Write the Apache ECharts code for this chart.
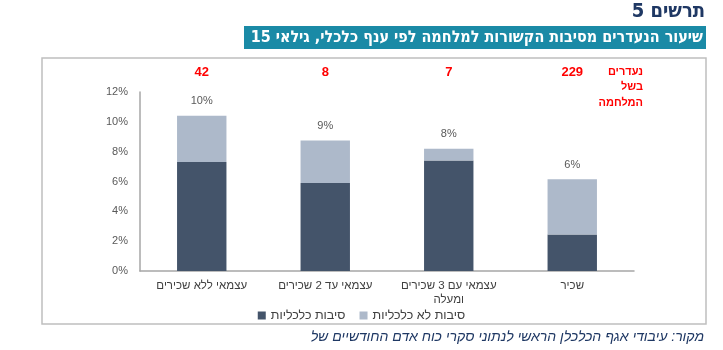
<!DOCTYPE html>
<html>
<head>
<meta charset="utf-8">
<script src="https://cdn.jsdelivr.net/npm/echarts@6/dist/echarts.min.js"></script>
<style>
  html, body { margin: 0; padding: 0; background: #fff; }
  #chart { width: 723px; height: 350px; }
</style>
</head>
<body>
<div id="chart"></div>
<script>
// נתונים
var categories = ['עצמאי ללא שכירים', 'עצמאי עד 2 שכירים', 'עצמאי עם 3 שכירים\nומעלה', 'שכיר'];
var econ = [7.3, 5.9, 7.4, 2.45];      // סיבות כלכליות
var nonEcon = [3.1, 2.85, 0.8, 3.7];   // סיבות לא כלכליות
var counts = ['42', '8', '7', '229'];  // נעדרים בשל המלחמה
var yTicks = [0, 2, 4, 6, 8, 10, 12];

var font = 'Liberation Sans, DejaVu Sans, sans-serif';
var narrow = '"DejaVu Sans Condensed", "Liberation Sans", sans-serif';

var myChart = echarts.init(document.getElementById('chart'));

var option = {
    animation: false,
    textStyle: { fontFamily: font },
    title: {
        text: 'תרשים 5',
        right: 18,
        top: 2,
        padding: 0,
        textStyle: { fontFamily: narrow, fontSize: 20, fontWeight: 'bold', color: '#1f3864' }
    },
    graphic: [
        { type: 'rect', shape: { x: 244, y: 26, width: 462, height: 23 }, style: { fill: '#1a8aa6' } },
        { type: 'text', x: 703, y: 38, style: {
            text: 'שיעור הנעדרים מסיבות הקשורות למלחמה לפי ענף כלכלי, גילאי 15',
            fill: '#fff', font: 'bold 16px ' + narrow, align: 'right', verticalAlign: 'middle' } },
        { type: 'rect', shape: { x: 42, y: 58, width: 664, height: 266 }, style: { fill: 'none', stroke: '#bfbfbf', lineWidth: 1.5 } },
        { type: 'text', x: 643, y: 64, style: {
            text: 'נעדרים\nבשל\nהמלחמה', fill: '#ff0000', font: 'bold 11px ' + font,
            align: 'right', verticalAlign: 'top', lineHeight: 15.5 } },
        { type: 'text', x: 704, y: 337, style: {
            text: 'מקור: עיבודי אגף הכלכלן הראשי לנתוני סקרי כוח אדם החודשיים של',
            fill: '#1f3864', font: 'italic 14px ' + font, align: 'right', verticalAlign: 'middle' } }
    ],
    legend: {
        left: 'center',
        top: 304,
        itemWidth: 8,
        itemHeight: 8,
        itemGap: 14,
        icon: 'rect',
        textStyle: { fontSize: 12.5, color: '#404040', fontFamily: font },
        data: ['סיבות כלכליות', 'סיבות לא כלכליות']
    },
    grid: { left: 140, right: 89, top: 92, bottom: 79 },
    xAxis: [{
        type: 'category',
        data: categories,
        axisLine: { lineStyle: { color: '#a6a6a6', width: 1.5 } },
        axisTick: { show: false },
        axisLabel: { interval: 0, color: '#404040', fontSize: 11.5, margin: 8, lineHeight: 14, fontFamily: font }
    }, {
        type: 'category',
        position: 'top',
        data: counts,
        axisLine: { show: false },
        axisTick: { show: false },
        axisLabel: { interval: 0, color: '#ff0000', fontSize: 13, fontWeight: 'bold', margin: 13, fontFamily: font }
    }],
    yAxis: {
        type: 'value',
        min: yTicks[0],
        max: yTicks[yTicks.length - 1],
        interval: 2,
        splitLine: { show: false },
        axisLine: { show: true, lineStyle: { color: '#a6a6a6', width: 1.5 } },
        axisTick: { show: false },
        axisLabel: { formatter: '{value}%', color: '#595959', fontSize: 11, margin: 12, fontFamily: font }
    },
    series: [{
        name: 'סיבות כלכליות',
        type: 'bar',
        stack: 'total',
        barWidth: '40%',
        itemStyle: { color: '#44546a' },
        data: econ
    }, {
        name: 'סיבות לא כלכליות',
        type: 'bar',
        stack: 'total',
        itemStyle: { color: '#adb9ca' },
        label: {
            show: true,
            position: 'top',
            distance: 9,
            color: '#595959',
            fontSize: 11,
            fontFamily: font,
            formatter: function (p) {
                return Math.round(econ[p.dataIndex] + nonEcon[p.dataIndex]) + '%';
            }
        },
        data: nonEcon
    }]
};

myChart.setOption(option);
</script>
</body>
</html>
